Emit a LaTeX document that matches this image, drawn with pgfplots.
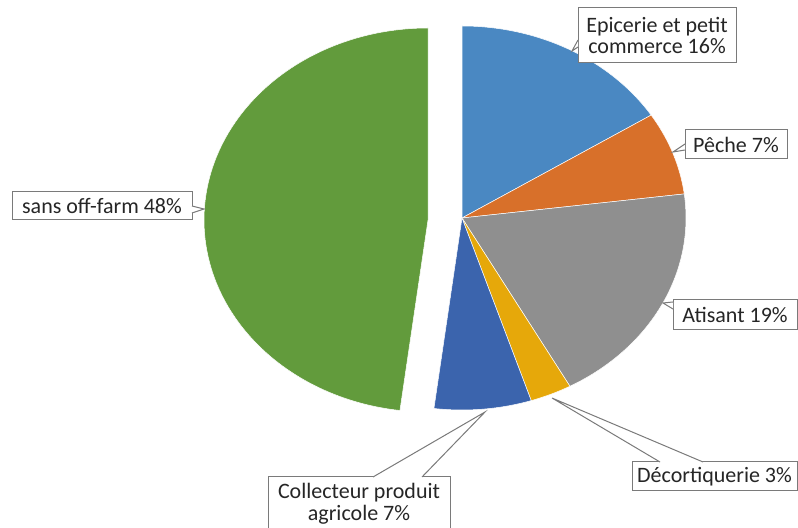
\documentclass[border=0pt]{standalone}
\usepackage{pgfplots}
\pgfplotsset{compat=1.18}
\usepackage{pgfplotstable}
\usepackage{fontspec}
\setmainfont{Carlito}

\pgfplotstableread{
cat value
Epicerie 16
Peche 7
Atisant 19
Decortiquerie 3
Collecteur 7
Sans 48
}\piedata

\definecolor{cEpi}{HTML}{4A88C2}
\definecolor{cPec}{HTML}{D8702A}
\definecolor{cAti}{HTML}{8F8F8F}
\definecolor{cDec}{HTML}{E6A80A}
\definecolor{cCol}{HTML}{3B64AD}
\definecolor{cSan}{HTML}{629B3C}
\definecolor{cBox}{HTML}{7A7A7A}
\definecolor{cTxt}{HTML}{262626}

\begin{document}
\begin{tikzpicture}
\pgfplotstablegetelem{0}{value}\of\piedata \pgfmathsetmacro\vA{\pgfplotsretval}
\pgfplotstablegetelem{1}{value}\of\piedata \pgfmathsetmacro\vB{\pgfplotsretval}
\pgfplotstablegetelem{2}{value}\of\piedata \pgfmathsetmacro\vC{\pgfplotsretval}
\pgfplotstablegetelem{3}{value}\of\piedata \pgfmathsetmacro\vD{\pgfplotsretval}
\pgfplotstablegetelem{4}{value}\of\piedata \pgfmathsetmacro\vE{\pgfplotsretval}
\pgfplotstablegetelem{5}{value}\of\piedata \pgfmathsetmacro\vF{\pgfplotsretval}
\pgfmathsetmacro\aA{90}
\pgfmathsetmacro\aB{\aA-3.6*\vA}
\pgfmathsetmacro\aC{\aB-3.6*\vB}
\pgfmathsetmacro\aD{\aC-3.6*\vC}
\pgfmathsetmacro\aE{\aD-3.6*\vD}
\pgfmathsetmacro\aF{\aE-3.6*\vE}
\pgfmathsetmacro\aFp{\aF+360}
\begin{axis}[width=798bp, height=528bp, scale only axis,
  xmin=0, xmax=798, ymin=0, ymax=528, hide axis, clip=false]
% right part of the pie (centre 462,310)
\addplot[fill=cEpi, draw=white, line width=0.5pt, domain=\aB:\aA, samples=60, variable=\t]
  ({462+224*cos(\t)},{310+192*sin(\t)}) -- (axis cs:462,310) -- cycle;
\addplot[fill=cPec, draw=white, line width=0.5pt, domain=\aC:\aB, samples=40, variable=\t]
  ({462+224*cos(\t)},{310+192*sin(\t)}) -- (axis cs:462,310) -- cycle;
\addplot[fill=cAti, draw=white, line width=0.5pt, domain=\aD:\aC, samples=60, variable=\t]
  ({462+224*cos(\t)},{310+192*sin(\t)}) -- (axis cs:462,310) -- cycle;
\addplot[fill=cDec, draw=white, line width=0.5pt, domain=\aE:\aD, samples=20, variable=\t]
  ({462+224*cos(\t)},{310+192*sin(\t)}) -- (axis cs:462,310) -- cycle;
\addplot[fill=cCol, draw=white, line width=0.5pt, domain=\aF:\aE, samples=30, variable=\t]
  ({462+224*cos(\t)},{310+192*sin(\t)}) -- (axis cs:462,310) -- cycle;
% exploded slice (centre 428,308)
\addplot[fill=cSan, draw=white, line width=0.5pt, domain=\aA:\aFp, samples=120, variable=\t]
  ({428+224*cos(\t)},{308+192*sin(\t)}) -- (axis cs:428,308) -- cycle;

% labels
\begin{scope}[every node/.style={text=cTxt, font=\fontsize{22bp}{21.5bp}\selectfont, align=center, inner sep=0pt}]
% Epicerie
\draw[cBox, line width=1bp, fill=white] (axis cs:578,520) rectangle (axis cs:736,465);
\draw[cBox, line width=1bp, fill=white] (axis cs:578,488) -- (axis cs:572,477) -- (axis cs:578,481);
\node at (axis cs:657,492.5) {Epicerie et petit\\commerce 16\%};
% Peche
\draw[cBox, line width=1bp, fill=white] (axis cs:685,398) rectangle (axis cs:787,369);
\draw[cBox, line width=1bp, fill=white] (axis cs:685,384) -- (axis cs:673,376) -- (axis cs:685,378);
\node at (axis cs:736,383.5) {Pêche 7\%};
% Sans
\draw[cBox, line width=1bp, fill=white] (axis cs:12,336) rectangle (axis cs:192,308);
\draw[cBox, line width=1bp, fill=white] (axis cs:192,322) -- (axis cs:204,319) -- (axis cs:192,315);
\node at (axis cs:102,322) {sans off-farm 48\%};
% Atisant
\draw[cBox, line width=1bp, fill=white] (axis cs:673,228) rectangle (axis cs:797,198);
\draw[cBox, line width=1bp, fill=white] (axis cs:673,226) -- (axis cs:663,225) -- (axis cs:673,219);
\node at (axis cs:735,213) {Atisant 19\%};
% Decortiquerie
\draw[cBox, line width=1bp, fill=white] (axis cs:632,66) rectangle (axis cs:797,37);
\draw[cBox, line width=1bp, fill=white] (axis cs:660,66) -- (axis cs:552,130) -- (axis cs:703,66);
\node at (axis cs:714.5,51.5) {Décortiquerie 3\%};
% Collecteur
\draw[cBox, line width=1bp, fill=white] (axis cs:268,51) rectangle (axis cs:450,-4);
\draw[cBox, line width=1bp, fill=white] (axis cs:373,51) -- (axis cs:485,116) -- (axis cs:422,51);
\node at (axis cs:359,24) {Collecteur produit\\agricole 7\%};
\end{scope}
\end{axis}
\pgfresetboundingbox
\path[use as bounding box] (0,0) rectangle (798bp,528bp);
\end{tikzpicture}
\end{document}
